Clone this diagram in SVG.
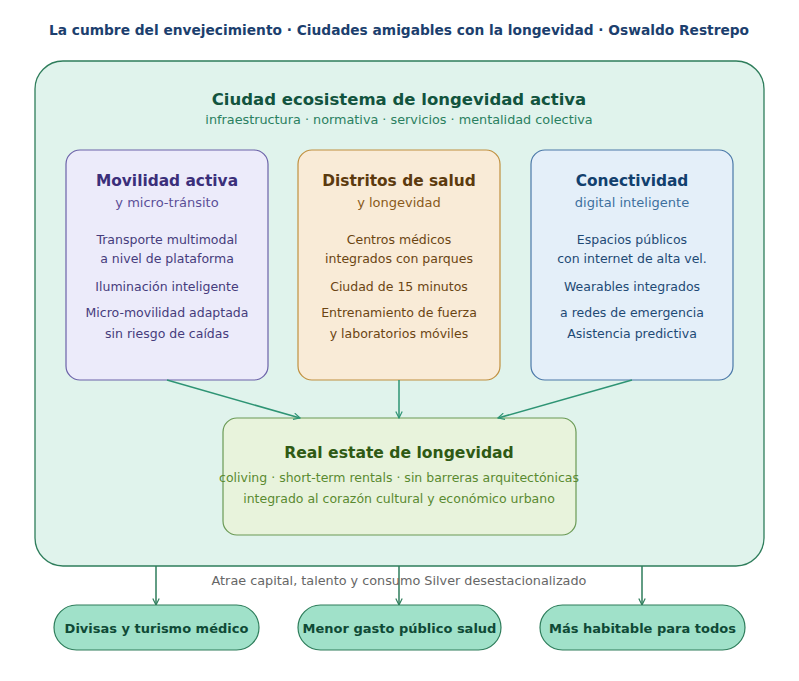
<svg xmlns="http://www.w3.org/2000/svg" width="799" height="681" viewBox="0 0 799 681">
<defs>
<style>
text{font-family:"DejaVu Sans","Liberation Sans",sans-serif;text-anchor:middle}
.t{font-size:13.75px;font-weight:bold;fill:#1c3f6e}
.h{font-size:16.5px;font-weight:bold;fill:#12543e}
.hs{font-size:12.8px;fill:#2a8060}
.bt{font-size:15.4px;font-weight:bold}
.bs{font-size:13px}
.bl{font-size:12.5px}
.c1 .bt{fill:#3b2f7a}.c1 .bs{fill:#5b4f98}.c1 .bl{fill:#463c7c}
.c2 .bt{fill:#5c3a0e}.c2 .bs{fill:#8a5a1a}.c2 .bl{fill:#6b4513}
.c3 .bt{fill:#12406e}.c3 .bs{fill:#3d6f9e}.c3 .bl{fill:#1e4a75}
.pill rect{fill:#a0e1c9;stroke:#2e7d5b;stroke-width:1.2}
.pill text{font-size:13px;font-weight:bold;fill:#0f4a36}
.lnk{stroke:#2e9474;stroke-width:1.5;fill:none}
.lnk2{stroke:#2e7d5b;stroke-width:1.5;fill:none}
</style>
<marker id="ah" viewBox="0 0 10 10" refX="9" refY="5" markerWidth="8" markerHeight="8" orient="auto" markerUnits="userSpaceOnUse">
<path d="M1,1 L9,5 L1,9" fill="none" stroke="#2e9474" stroke-width="1.5"/>
</marker>
<marker id="ah2" viewBox="0 0 10 10" refX="9" refY="5" markerWidth="8" markerHeight="8" orient="auto" markerUnits="userSpaceOnUse">
<path d="M1,1 L9,5 L1,9" fill="none" stroke="#2e7d5b" stroke-width="1.5"/>
</marker>
</defs>
<rect width="799" height="681" fill="#ffffff"/>
<text class="t" x="399" y="35">La cumbre del envejecimiento · Ciudades amigables con la longevidad · Oswaldo Restrepo</text>

<g id="ecosistema">
<rect x="35" y="61" width="729" height="505" rx="28" fill="#e0f3ec" stroke="#2e7d5b" stroke-width="1.3"/>
<text class="h" x="399" y="105">Ciudad ecosistema de longevidad activa</text>
<text class="hs" x="399" y="124">infraestructura · normativa · servicios · mentalidad colectiva</text>
</g>

<g id="movilidad" class="c1">
<rect x="66" y="150" width="202" height="230" rx="14" fill="#ecebfa" stroke="#6b62a8" stroke-width="1.2"/>
<text class="bt" x="167" y="186">Movilidad activa</text>
<text class="bs" x="167" y="207">y micro-tránsito</text>
<text class="bl" x="167" y="244">Transporte multimodal</text>
<text class="bl" x="167" y="263">a nivel de plataforma</text>
<text class="bl" x="167" y="291">Iluminación inteligente</text>
<text class="bl" x="167" y="317">Micro-movilidad adaptada</text>
<text class="bl" x="167" y="338">sin riesgo de caídas</text>
</g>

<g id="distritos" class="c2">
<rect x="298" y="150" width="202" height="230" rx="14" fill="#f9ebd7" stroke="#c0903f" stroke-width="1.2"/>
<text class="bt" x="399" y="186">Distritos de salud</text>
<text class="bs" x="399" y="207">y longevidad</text>
<text class="bl" x="399" y="244">Centros médicos</text>
<text class="bl" x="399" y="263">integrados con parques</text>
<text class="bl" x="399" y="291">Ciudad de 15 minutos</text>
<text class="bl" x="399" y="317">Entrenamiento de fuerza</text>
<text class="bl" x="399" y="338">y laboratorios móviles</text>
</g>

<g id="conectividad" class="c3">
<rect x="531" y="150" width="202" height="230" rx="14" fill="#e4eff9" stroke="#4a78a8" stroke-width="1.2"/>
<text class="bt" x="632" y="186">Conectividad</text>
<text class="bs" x="632" y="207">digital inteligente</text>
<text class="bl" x="632" y="244">Espacios públicos</text>
<text class="bl" x="632" y="263">con internet de alta vel.</text>
<text class="bl" x="632" y="291">Wearables integrados</text>
<text class="bl" x="632" y="317">a redes de emergencia</text>
<text class="bl" x="632" y="338">Asistencia predictiva</text>
</g>

<g id="realestate">
<rect x="223" y="418" width="353" height="117" rx="14" fill="#e8f3dc" stroke="#6a9a55" stroke-width="1.2"/>
<text x="399" y="458" style="font-size:15.6px;font-weight:bold;fill:#2f5a14">Real estate de longevidad</text>
<text x="399" y="482" style="font-size:12.5px;fill:#5a8a30">coliving · short-term rentals · sin barreras arquitectónicas</text>
<text x="399" y="503" style="font-size:12.5px;fill:#5a8a30">integrado al corazón cultural y económico urbano</text>
</g>

<g id="connectors">
<line class="lnk" x1="167" y1="380" x2="300" y2="418" marker-end="url(#ah)"/>
<line class="lnk" x1="399" y1="380" x2="399" y2="418" marker-end="url(#ah)"/>
<line class="lnk" x1="632" y1="380" x2="498" y2="418" marker-end="url(#ah)"/>
<line class="lnk2" x1="156" y1="566" x2="156" y2="605" marker-end="url(#ah2)"/>
<line class="lnk2" x1="399" y1="566" x2="399" y2="605" marker-end="url(#ah2)"/>
<line class="lnk2" x1="642" y1="566" x2="642" y2="605" marker-end="url(#ah2)"/>
<text x="399" y="585" style="font-size:12.8px;fill:#666666">Atrae capital, talento y consumo Silver desestacionalizado</text>
</g>

<g id="divisas" class="pill">
<rect x="54" y="605" width="205" height="45" rx="22.5"/>
<text x="156.5" y="633">Divisas y turismo médico</text>
</g>
<g id="gasto" class="pill">
<rect x="298" y="605" width="203" height="45" rx="22.5"/>
<text x="399.5" y="633">Menor gasto público salud</text>
</g>
<g id="habitable" class="pill">
<rect x="540" y="605" width="205" height="45" rx="22.5"/>
<text x="642.5" y="633">Más habitable para todos</text>
</g>
</svg>
